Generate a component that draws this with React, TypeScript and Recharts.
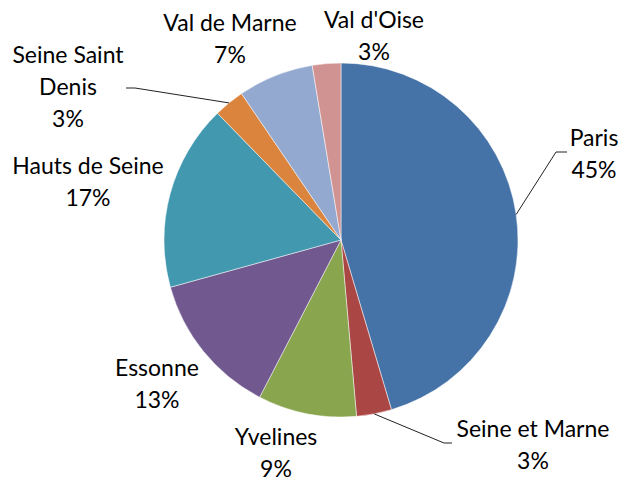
import React from 'react';
import { PieChart, Pie, Cell } from 'recharts';

const departments = [
  'Paris',
  'Seine et Marne',
  'Yvelines',
  'Essonne',
  'Hauts de Seine',
  'Seine Saint Denis',
  'Val de Marne',
  "Val d'Oise",
];
const shares = [45.4, 3.2, 9.0, 13.1, 17.0, 2.8, 6.9, 2.6];
const colors = ['#4572A7', '#AA4643', '#89A54E', '#71588F', '#4198AF', '#DB843D', '#93A9CF', '#D19392'];

const data = departments.map((name, i) => ({ name, value: shares[i] }));

const FONT = 'Lato, "Liberation Sans", sans-serif';
const FONT_SIZE = 23;
const LINE_H = 32;

type Layout = { x: number; y: number; lines?: string[]; leader?: [number, number][] };
const LAYOUT: Record<string, Layout> = {
  Paris: { x: 594, y: 146, leader: [[556, 152], [567, 152]] },
  'Seine et Marne': { x: 533, y: 437, leader: [[444, 443], [452, 443]] },
  Yvelines: { x: 276, y: 445 },
  Essonne: { x: 157, y: 376 },
  'Hauts de Seine': { x: 88, y: 174 },
  'Seine Saint Denis': { x: 68, y: 63, lines: ['Seine Saint', 'Denis'], leader: [[135, 88], [126, 88]] },
  'Val de Marne': { x: 230, y: 31 },
  "Val d'Oise": { x: 374, y: 28 },
};

const RAD = Math.PI / 180;

const renderLabel = (props: any) => {
  const { cx, cy, midAngle, outerRadius, percent, name } = props;
  const lay = LAYOUT[name];
  if (!lay) return null;
  const lines = [...(lay.lines ?? [name]), `${Math.round(percent * 100)}%`];
  const ex = cx + outerRadius * Math.cos(-midAngle * RAD);
  const ey = cy + outerRadius * Math.sin(-midAngle * RAD);
  return (
    <g>
      {lay.leader && (
        <polyline
          points={[[ex, ey], ...lay.leader].map((p) => p.join(',')).join(' ')}
          fill="none"
          stroke="#222"
          strokeWidth={1}
        />
      )}
      <text x={lay.x} textAnchor="middle" fontFamily={FONT} fontSize={FONT_SIZE} fill="#000">
        {lines.map((l, i) => (
          <tspan key={i} x={lay.x} y={lay.y + i * LINE_H}>
            {l}
          </tspan>
        ))}
      </text>
    </g>
  );
};

export default function App() {
  return (
    <div style={{ position: 'absolute', left: 0, top: 0, width: 620, height: 481, background: '#fff' }}>
      <PieChart width={620} height={481} margin={{ top: 0, right: 0, bottom: 0, left: 0 }}>
        <Pie
          data={data}
          dataKey="value"
          nameKey="name"
          cx={341}
          cy={240}
          outerRadius={177}
          startAngle={90}
          endAngle={-270}
          label={renderLabel}
          labelLine={false}
          isAnimationActive={false}
          stroke="#ffffff"
          strokeWidth={0.5}
        >
          {data.map((d, i) => (
            <Cell key={d.name} fill={colors[i]} />
          ))}
        </Pie>
      </PieChart>
    </div>
  );
}
